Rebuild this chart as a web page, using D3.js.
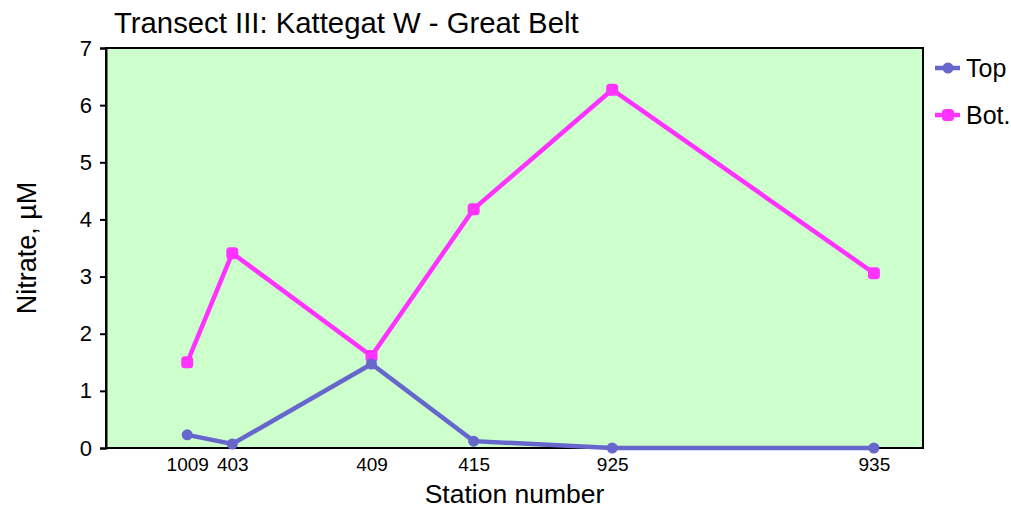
<!DOCTYPE html>
<html><head><meta charset="utf-8">
<script src="https://cdn.jsdelivr.net/npm/d3@7"></script>
<style>body{margin:0;background:#fff;} text{font-family:"Liberation Sans",Arial,sans-serif;}</style>
</head><body>
<svg id="c" width="1011" height="511"></svg>
<script>
const stations = ["1009","403","409","415","925","935"];
const distance = [9.94, 15.46, 32.5, 45.0, 61.96, 93.99];
const topValues = [0.23, 0.07, 1.47, 0.12, 0.0, 0.0];
const botValues = [1.5, 3.41, 1.61, 4.18, 6.27, 3.06];
const yTicks = [0,1,2,3,4,5,6,7];
const seriesNames = ["Top","Bot."];

const svg = d3.select("#c");
const L=106, T=48, R=923, B=448;
const x = d3.scaleLinear().domain([0,100]).range([L,R]);
const y = d3.scaleLinear().domain([0,7]).range([B,T]);

svg.append("rect").attr("x",L).attr("y",T).attr("width",R-L).attr("height",B-T)
  .attr("fill","#ccffcc").attr("stroke","#000").attr("stroke-width",2);

const ya = svg.append("g").attr("transform",`translate(${L},0)`)
  .call(d3.axisLeft(y).tickValues(yTicks).tickFormat(d3.format("d")).tickSize(6).tickPadding(8));
ya.select(".domain").attr("stroke","#000").attr("stroke-width",2);
ya.selectAll(".tick line").attr("stroke","#000").attr("stroke-width",2);
ya.selectAll("text").attr("font-size",22).attr("fill","#000").attr("font-family","Liberation Sans, Arial, sans-serif");

const xa = svg.append("g").attr("transform",`translate(0,${B})`)
  .call(d3.axisBottom(x).tickValues(distance).tickFormat((d,i)=>stations[i]).tickSize(0).tickPadding(10));
xa.select(".domain").remove();
xa.selectAll("text").attr("font-size",19).attr("fill","#000").attr("font-family","Liberation Sans, Arial, sans-serif");

const data = [
  {name:seriesNames[0], vals:topValues, color:"#6666cc", sym:"circle"},
  {name:seriesNames[1], vals:botValues, color:"#ff33ff", sym:"square"}
];
const line = d3.line().x((d,i)=>x(distance[i])).y(d=>y(d));
data.slice().reverse().forEach(s=>{
  svg.append("path").datum(s.vals).attr("d",line).attr("fill","none")
    .attr("stroke",s.color).attr("stroke-width",4.5);
  s.vals.forEach((v,i)=>{
    if(s.sym==="circle") svg.append("circle").attr("cx",x(distance[i])).attr("cy",y(v)).attr("r",5.5).attr("fill",s.color);
    else svg.append("rect").attr("x",x(distance[i])-6).attr("y",y(v)-6).attr("width",12).attr("height",12).attr("rx",3.5).attr("fill",s.color);
  });
});

// legend
data.forEach((s,i)=>{
  const ly = 68 + i*47;
  svg.append("line").attr("x1",935).attr("x2",960).attr("y1",ly).attr("y2",ly).attr("stroke",s.color).attr("stroke-width",4.5);
  if(s.sym==="circle") svg.append("circle").attr("cx",948).attr("cy",ly).attr("r",5.5).attr("fill",s.color);
  else svg.append("rect").attr("x",942).attr("y",ly-6).attr("width",12).attr("height",12).attr("rx",3.5).attr("fill",s.color);
  svg.append("text").attr("x",966).attr("y",ly+9).attr("font-size",25).text(s.name);
});

svg.append("text").attr("x",114).attr("y",33).attr("font-size",29.3).text("Transect III: Kattegat W - Great Belt");
svg.append("text").attr("x",(L+R)/2).attr("y",503).attr("text-anchor","middle").attr("font-size",26.5).text("Station number");
svg.append("text").attr("transform",`translate(36,${(T+B)/2}) rotate(-90)`).attr("text-anchor","middle").attr("font-size",27).text("Nitrate, µM");
</script>
</body></html>
